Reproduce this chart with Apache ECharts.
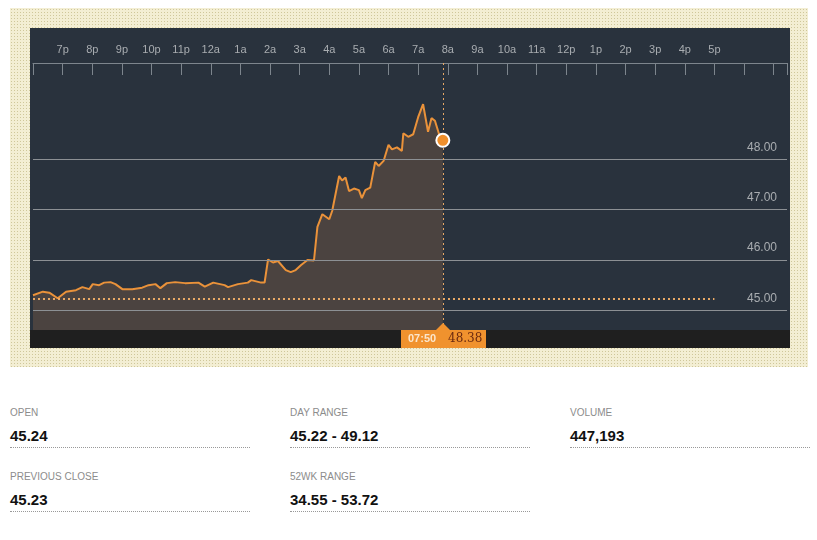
<!DOCTYPE html>
<html><head><meta charset="utf-8">
<script src="https://cdn.jsdelivr.net/npm/echarts@6/dist/echarts.min.js"></script>
<style>
body{margin:0;width:817px;height:540px;background:#fff;position:relative;font-family:Arial,"Liberation Sans",sans-serif;overflow:hidden}
#bg{position:absolute;left:10px;top:8px;width:798px;height:359px;background-color:#f3eed3;background-image:radial-gradient(#cfc79a 0.8px,transparent 0.9px);background-size:3px 3px}
#panel{position:absolute;left:30px;top:28px;width:760px;height:320px;background:#29323d}
#c{position:absolute;left:30px;top:28px;width:760px;height:320px}
.st{position:absolute;width:240px;border-bottom:1px dotted #999}
.st .l{font-size:10px;color:#8c8c8c;height:20px}
.st .v{font-size:15px;font-weight:bold;color:#111;height:20px}
</style></head><body>
<div id="bg"></div><div id="panel"></div><div id="c"></div>
<div id="stats"></div>
<script>
// minutes after 18:00
const times=[0,20,33,50,67,87,100,114,121,134,144,157,167,181,201,221,234,248,258,271,288,308,335,348,365,388,395,415,435,442,462,469,476,486,496,512,522,532,543,556,569,576,586,600,606,620,626,633,640,650,660,666,673,683,693,700,710,720,727,737,747,750,760,770,780,790,800,807,814,824,830];
const prices=[45.30,45.37,45.35,45.24,45.37,45.40,45.46,45.42,45.52,45.50,45.55,45.56,45.52,45.42,45.42,45.45,45.50,45.52,45.44,45.54,45.56,45.54,45.55,45.47,45.55,45.50,45.46,45.52,45.55,45.60,45.55,45.55,46.01,45.95,45.98,45.80,45.76,45.80,45.90,46.00,45.99,46.66,46.91,46.81,46.98,47.67,47.58,47.64,47.37,47.42,47.39,47.23,47.39,47.44,47.95,47.87,47.97,48.29,48.20,48.24,48.17,48.52,48.45,48.50,48.84,49.10,48.55,48.82,48.77,48.45,48.38];
const hourLabels=['7p','8p','9p','10p','11p','12a','1a','2a','3a','4a','5a','6a','7a','8a','9a','10a','11a','12p','1p','2p','3p','4p','5p'];
const gridValues=[45,46,47,48];
const prevClose=45.23;
const lastTime='07:50', lastPrice='48.38';
const stats=[['OPEN','45.24'],['DAY RANGE','45.22 - 49.12'],['VOLUME','447,193'],['PREVIOUS CLOSE','45.23'],['52WK RANGE','34.55 - 53.72']];

const sp=[[10,415],[290,415],[570,415],[10,479],[290,479]];
document.getElementById('stats').innerHTML=stats.map((s,i)=>`<div class="st" style="left:${sp[i][0]}px;top:${sp[i][1]-8}px"><div class="l">${s[0]}</div><div class="v">${s[1]}</div></div>`).join('');

const data=times.map((t,i)=>[t,prices[i]]);
const last=data[data.length-1];
const ch=echarts.init(document.getElementById('c'));
const gl=gridValues.map(v=>({yAxis:v,label:{formatter:v.toFixed(2)}}));
ch.setOption({
 animation:false,
 grid:{left:0,right:0,top:35,bottom:18},
 xAxis:{type:'value',position:'top',min:0,max:1527,interval:60,
  axisLine:{lineStyle:{color:'#7d858d'}},
  axisTick:{inside:true,length:12,lineStyle:{color:'#7d858d'}},
  axisLabel:{color:'#a9adb1',fontSize:11,margin:8,fontFamily:'Arial',formatter:v=>{const k=v/60-1;return (k>=0&&k<hourLabels.length)?hourLabels[k]:'';}},
  splitLine:{show:false}},
 yAxis:{type:'value',min:44.608,max:49.917,show:false,splitLine:{show:false}},
 graphic:[
  {type:'rect',shape:{x:0,y:302,width:760,height:18},style:{fill:'#1f1f1f'},z:5},
  {type:'rect',shape:{x:371,y:302,width:85,height:18},style:{fill:'#f0922e'},z:6},
  {type:'polygon',shape:{points:[[406,302],[413,295],[420,302]]},style:{fill:'#f0922e'},z:6},
  {type:'text',x:378,y:311,style:{text:lastTime,fill:'#fbe6cc',font:'bold 11px Arial',verticalAlign:'middle'},z:7},
  {type:'text',x:418,y:311,style:{text:lastPrice,fill:'#6b2a10',font:'12px "DejaVu Serif",serif',verticalAlign:'middle'},z:7}
 ],
 series:[{type:'line',data:data,symbol:'none',clip:false,
  lineStyle:{color:'#ea923a',width:2},
  areaStyle:{color:'#4b4340',opacity:1,origin:'start'},
  markLine:{silent:true,symbol:'none',data:[
    ...gl.map(g=>Object.assign(g,{lineStyle:{color:'#8c9094',type:'solid',width:1},label:Object.assign(g.label,{position:'insideEndTop',color:'#a9adb1',fontSize:12,fontFamily:'Arial',distance:[10,6]})})),
    [{coord:[0,prevClose],lineStyle:{color:'#e9a965',type:[2,3],width:2}},{coord:[1380,prevClose]}],
    {xAxis:last[0],lineStyle:{color:'#e9a965',type:[2,3],width:1},label:{show:false}}
   ],label:{show:true}},
  markPoint:{symbol:'circle',symbolSize:13,data:[{coord:last}],itemStyle:{color:'#ef8f2c',borderColor:'#fff',borderWidth:2},label:{show:false}}
 }]
});
</script></body></html>
